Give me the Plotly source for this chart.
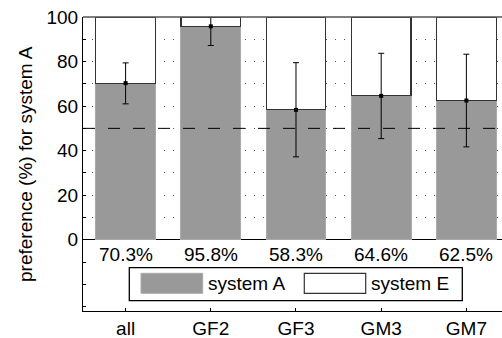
import plotly.graph_objects as go

categories = ["all", "GF2", "GF3", "GM3", "GM7"]
system_a = [70.3, 95.8, 58.3, 64.6, 62.5]
system_e = [100 - v for v in system_a]
ci_upper = [79.4, 100.0, 79.5, 83.7, 83.3]
ci_lower = [61.0, 87.2, 37.2, 45.4, 41.7]
series_names = ["system A", "system E"]
ytick_vals = [0, 10, 20, 30, 40, 50, 60, 70, 80, 90, 100]
ytick_text = ["0", "", "20", "", "40", "", "60", "", "80", "", "100"]
chance_level = 50

FONT = "Liberation Sans, Arial, sans-serif"
FS = 19
GRAY = "#999999"

W, H = 502, 338
L, R, T, B = 83, 0, 17, 27
PW, PH = W - L - R, H - T - B

def px(x):
    return (x - L) / PW

def py(y):
    return (H - B - y) / PH

fig = go.Figure()
fig.add_trace(go.Bar(x=categories, y=system_a, name=series_names[0], width=0.7,
                     marker=dict(color=GRAY, line=dict(color="#aaaaaa", width=1))))
fig.add_trace(go.Bar(x=categories, y=system_e, name=series_names[1], width=0.7,
                     marker=dict(color="white", line=dict(color="#333333", width=1.2))))
fig.add_trace(go.Scatter(
    x=categories, y=system_a, mode="markers",
    marker=dict(color="black", size=4, symbol="square"),
    error_y=dict(type="data", symmetric=False,
                 array=[u - v for u, v in zip(ci_upper, system_a)],
                 arrayminus=[v - l for v, l in zip(system_a, ci_lower)],
                 color="black", thickness=1, width=3),
    showlegend=False))

shapes = [
    dict(type="line", xref="paper", x0=0, x1=1, yref="y", y0=chance_level, y1=chance_level,
         line=dict(color="black", width=1, dash="12px,13px"), layer="above"),
    dict(type="line", xref="paper", x0=0, x1=1, yref="paper", y0=1, y1=1,
         line=dict(color="#555555", width=1.5), layer="above"),
    dict(type="rect", xref="paper", yref="paper", x0=px(129.3), x1=px(462.3),
         y0=py(300.7), y1=py(267.7), line=dict(color="black", width=1.3),
         fillcolor="white", layer="above"),
    dict(type="rect", xref="paper", yref="paper", x0=px(141), x1=px(202.7),
         y0=py(293.3), y1=py(273.3), line=dict(color="#aaaaaa", width=1),
         fillcolor=GRAY, layer="above"),
    dict(type="rect", xref="paper", yref="paper", x0=px(304.3), x1=px(365.7),
         y0=py(293.3), y1=py(273.3), line=dict(color="#333333", width=1.2),
         fillcolor="white", layer="above"),
]

annotations = [
    dict(text=f"{v:.1f}%", x=c, xref="x", y=py(254), yref="paper",
         showarrow=False, xanchor="center", yanchor="middle",
         font=dict(family=FONT, size=FS, color="black"))
    for c, v in zip(categories, system_a)
]
annotations += [
    dict(text=series_names[0], x=px(206), y=py(283), xref="paper", yref="paper",
         showarrow=False, xanchor="left", yanchor="middle",
         font=dict(family=FONT, size=FS, color="black")),
    dict(text=series_names[1], x=px(369), y=py(283), xref="paper", yref="paper",
         showarrow=False, xanchor="left", yanchor="middle",
         font=dict(family=FONT, size=FS, color="black")),
    dict(text="preference (%) for system A", x=px(25), y=0.5, xref="paper", yref="paper",
         showarrow=False, xanchor="center", yanchor="middle", textangle=-90,
         font=dict(family=FONT, size=FS, color="black")),
]

fig.update_layout(
    width=W, height=H, margin=dict(l=L, r=R, t=T, b=B, pad=0),
    barmode="stack", bargap=0.3, showlegend=False,
    plot_bgcolor="white", paper_bgcolor="white",
    font=dict(family=FONT, size=FS, color="black"),
    shapes=shapes, annotations=annotations,
)
fig.update_xaxes(type="category", categoryorder="array", categoryarray=categories,
                 range=[-0.5, 4.418], showgrid=False, zeroline=False,
                 showline=True, linecolor="black", linewidth=1,
                 ticks="inside", ticklen=3, tickcolor="black",
                 tickfont=dict(family=FONT, size=FS))
fig.update_yaxes(range=[-32, 100], tickmode="array", tickvals=ytick_vals, ticktext=ytick_text,
                 showline=True, linecolor="black", linewidth=1,
                 ticks="inside", ticklen=3, tickcolor="black",
                 showgrid=True, gridcolor="#555555", gridwidth=1, griddash="1px,8px",
                 zeroline=True, zerolinecolor="black", zerolinewidth=1,
                 minor=dict(tickmode="array", tickvals=[-10, -20, -30], ticks="inside",
                            ticklen=3, tickcolor="black", showgrid=False),
                 tickfont=dict(family=FONT, size=FS))

fig.write_html("out.html")
